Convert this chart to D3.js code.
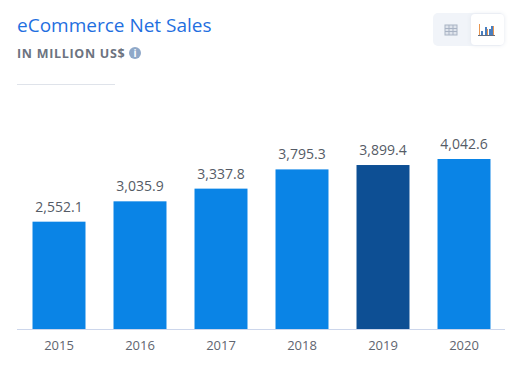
<!DOCTYPE html>
<html>
<head>
<meta charset="utf-8">
<script src="https://cdnjs.cloudflare.com/ajax/libs/d3/7.8.5/d3.min.js"></script>
<style>
    html, body { margin: 0; padding: 0; background: #fff; }
    svg { display: block; font-family: "Open Sans", sans-serif; }
</style>
</head>
<body>
<svg id="chart"></svg>
<script>
const years = ['2015', '2016', '2017', '2018', '2019', '2020'];
const sales = [2552.1, 3035.9, 3337.8, 3795.3, 3899.4, 4042.6];
const highlightYear = '2019';

const width = 517, height = 374;
const margin = { top: 159, right: 12.5, bottom: 45, left: 18.5 };

const svg = d3.select('#chart').attr('width', width).attr('height', height);

// header
svg.append('text').attr('x', 17).attr('y', 32)
    .attr('font-size', 19).attr('fill', '#1f6fe0')
    .text('eCommerce Net Sales');

const sub = svg.append('text').attr('x', 17).attr('y', 58)
    .attr('font-size', 12.5).attr('font-weight', 700)
    .attr('letter-spacing', 0.7).attr('fill', '#6c7380')
    .text('IN MILLION US$');

// info icon
svg.append('circle').attr('cx', 135).attr('cy', 53).attr('r', 6).attr('fill', '#8fa8c8');
svg.append('text').attr('x', 135).attr('y', 57)
    .attr('text-anchor', 'middle').attr('font-size', 10).attr('font-weight', 700)
    .attr('fill', '#fff').text('i');

svg.append('line').attr('x1', 17).attr('x2', 115).attr('y1', 84.5).attr('y2', 84.5)
    .attr('stroke', '#dfe3ea');

// toggle buttons
svg.append('rect').attr('x', 433).attr('y', 13).attr('width', 71).attr('height', 33).attr('rx', 5)
    .attr('fill', '#f1f4f9');
svg.append('rect').attr('x', 471).attr('y', 14).attr('width', 33).attr('height', 31).attr('rx', 4)
    .attr('fill', '#fff').style('filter', 'drop-shadow(0 0 2px #e2e6ee)');

// table icon
const tableIcon = svg.append('g').attr('fill', 'none').attr('stroke', '#a9b3c4').attr('stroke-width', 1);
tableIcon.append('rect').attr('x', 445).attr('y', 25).attr('width', 12).attr('height', 10).attr('fill', '#dfe4ec');
[28.5, 31.5].forEach(y => tableIcon.append('line').attr('x1', 445).attr('x2', 457).attr('y1', y).attr('y2', y));
[449, 453].forEach(x => tableIcon.append('line').attr('x1', x).attr('x2', x).attr('y1', 25).attr('y2', 35));

// bar chart icon
const barIcon = svg.append('g');
const iconParts = [
    [479, 24, 1, 11, '#e8954f'], [481, 31, 2, 4, '#4a7fc0'], [485, 27, 2, 8, '#4a7fc0'],
    [487, 29, 1, 6, '#e8954f'], [489, 29, 2, 6, '#4a7fc0'], [491, 26, 2, 9, '#4a7fc0'], [493, 26, 1, 9, '#e8954f']
];
iconParts.forEach(p => barIcon.append('rect')
    .attr('x', p[0]).attr('y', p[1]).attr('width', p[2]).attr('height', p[3]).attr('fill', p[4]));
barIcon.append('rect').attr('x', 478).attr('y', 35).attr('width', 17).attr('height', 1).attr('fill', '#5f6b80');

// scales
const xScale = d3.scaleBand()
    .domain(years)
    .range([margin.left, width - margin.right])
    .paddingInner(0.346)
    .paddingOuter(0.173);

const yScale = d3.scaleLinear()
    .domain([0, d3.max(sales)])
    .range([height - margin.bottom, margin.top]);

const data = years.map((year, i) => ({ year, value: sales[i] }));

svg.selectAll('.bar')
    .data(data)
    .join('rect')
    .attr('class', 'bar')
    .attr('x', d => xScale(d.year))
    .attr('y', d => yScale(d.value))
    .attr('width', xScale.bandwidth())
    .attr('height', d => yScale(0) - yScale(d.value))
    .attr('fill', d => d.year === highlightYear ? '#0d4f94' : '#0a84e6');

svg.selectAll('.bar-label')
    .data(data)
    .join('text')
    .attr('class', 'bar-label')
    .attr('x', d => xScale(d.year) + xScale.bandwidth() / 2)
    .attr('y', d => yScale(d.value) - 10)
    .attr('text-anchor', 'middle')
    .attr('font-size', 14)
    .attr('fill', '#555b66')
    .text(d => d3.format(',.1f')(d.value));

// x axis
const xAxis = d3.axisBottom(xScale).tickSize(0).tickPadding(12);
const xAxisG = svg.append('g')
    .attr('transform', `translate(0,${height - margin.bottom})`)
    .call(xAxis);
xAxisG.select('.domain').remove();
xAxisG.selectAll('text')
    .attr('font-family', '"Open Sans", sans-serif')
    .attr('font-size', 13)
    .attr('fill', '#5f6570');
xAxisG.append('line')
    .attr('x1', 17).attr('x2', 505).attr('y1', 0.5).attr('y2', 0.5)
    .attr('stroke', '#ccd6eb');
</script>
</body>
</html>
